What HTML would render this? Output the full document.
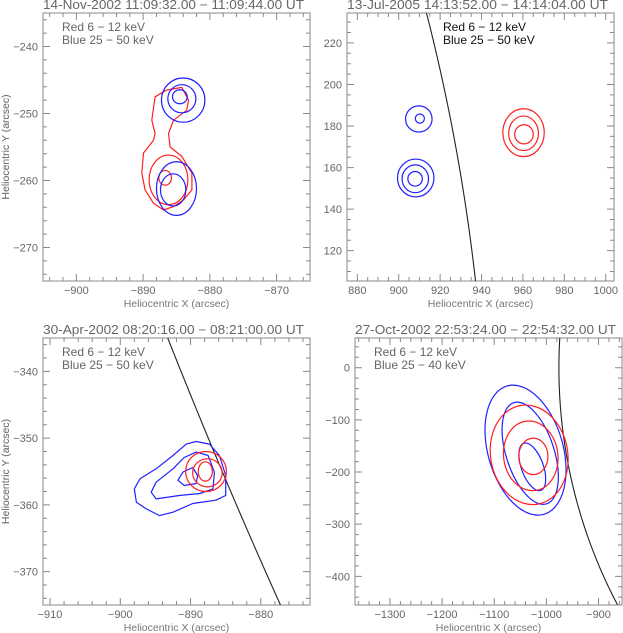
<!DOCTYPE html>
<html><head><meta charset="utf-8"><style>
html,body{margin:0;padding:0;background:#fff;}
svg{display:block;font-family:"Liberation Sans",sans-serif;}
</style></head><body>
<svg id="fig" width="623" height="633" viewBox="0 0 623 633" xmlns="http://www.w3.org/2000/svg"></svg>
<script>
// ---------- Panel 1 data ----------
const p1Title = "14-Nov-2002 11:09:32.00 \u2212 11:09:44.00 UT";
const p1Legend = ["Red 6 \u2212 12 keV", "Blue 25 \u2212 50 keV"];
const p1XRange = [-905, -865];
const p1YRange = [-275, -235];
const p1XTicks = [-900, -890, -880, -870];
const p1YTicks = [-270, -260, -250, -240];
const p1RedPoly = [[-884.2,-246.1],[-883.2,-248.0],[-883.45,-249.5],[-885.45,-251.0],[-886.2,-253.0],[-885.95,-255.0],[-884.2,-256.4],[-882.7,-258.9],[-882.7,-261.4],[-883.95,-262.9],[-885.45,-263.9],[-886.95,-264.4],[-888.45,-263.4],[-889.7,-261.4],[-890.2,-258.9],[-889.95,-255.9],[-888.45,-254.0],[-888.2,-253.0],[-888.7,-251.0],[-888.2,-247.5],[-886.45,-246.5]];
// ellipses: [cx, cy, rx, ry, rotationDeg]
const p1RedEll = [[-886.2,-259.9,2.9,3.7,0],[-886.7,-259.6,0.95,1.1,0]];
const p1BlueEll = [[-884.0,-248.0,3.25,3.3,0],[-884.2,-247.8,2.1,2.1,0],[-884.5,-247.5,1.1,1.05,0],[-885.0,-261.2,3.0,4.0,0],[-885.5,-261.4,1.9,2.4,0]];

// ---------- Panel 2 data ----------
const p2Title = "13-Jul-2005 14:13:52.00 \u2212 14:14:04.00 UT";
const p2Legend = ["Red 6 \u2212 12 keV", "Blue 25 \u2212 50 keV"];
const p2XRange = [875, 1004];
const p2YRange = [105.4, 234.4];
const p2XTicks = [880, 900, 920, 940, 960, 980, 1000];
const p2YTicks = [120, 140, 160, 180, 200, 220];
const p2RedEll = [[960.3,176.8,10,11.5,0],[960.3,176.5,7.2,8.3,0],[960.5,176.0,4.5,4.6,0]];
const p2BlueEll = [[909.7,183.4,6.4,6.3,0],[910.2,183.6,2.2,2.2,0],[908.2,155.0,8.8,9.1,0],[908.0,154.6,6.4,6.7,0],[907.9,154.6,3.5,3.5,0]];
const p2LimbR = 943;
const p2LimbSign = 1;

// ---------- Panel 3 data ----------
const p3Title = "30-Apr-2002 08:20:16.00 \u2212 08:21:00.00 UT";
const p3Legend = ["Red 6 \u2212 12 keV", "Blue 25 \u2212 50 keV"];
const p3XRange = [-911, -873];
const p3YRange = [-375, -335];
const p3XTicks = [-910, -900, -890, -880];
const p3YTicks = [-370, -360, -350, -340];
const p3RedEll = [[-887.8,-355.0,2.9,3.0,0],[-887.6,-355.2,2.1,2.1,0],[-887.9,-355.0,1.0,1.45,0]];
const p3BluePolys = [
 [[-889.2,-350.5],[-887.3,-350.9],[-885.9,-352.6],[-885.0,-355.6],[-885.0,-358.6],[-886.4,-359.3],[-889.7,-359.8],[-892.5,-361.1],[-894.4,-361.6],[-896.3,-360.6],[-897.7,-359.6],[-898.0,-357.6],[-897.2,-356.1],[-894.9,-354.6],[-892.5,-352.6],[-890.6,-350.9]],
 [[-889.2,-352.1],[-887.5,-352.6],[-886.6,-355.1],[-886.8,-357.6],[-888.7,-358.3],[-891.6,-358.6],[-894.9,-359.1],[-895.6,-358.1],[-894.9,-356.6],[-892.5,-354.6],[-890.9,-352.9]],
 [[-889.7,-354.4],[-889.0,-355.6],[-889.2,-356.8],[-890.9,-357.1],[-891.8,-356.3],[-891.1,-355.1]]
];
const p3LimbR = 954;
const p3LimbSign = -1;

// ---------- Panel 4 data ----------
const p4Title = "27-Oct-2002 22:53:24.00 \u2212 22:54:32.00 UT";
const p4Legend = ["Red 6 \u2212 12 keV", "Blue 25 \u2212 40 keV"];
const p4XRange = [-1367, -855];
const p4YRange = [-455, 57];
const p4XTicks = [-1300, -1200, -1100, -1000, -900];
const p4YTicks = [-400, -300, -200, -100, 0];
const p4RedEll = [[-1033,-167,74,96,-10],[-1030,-169,52,67,-8],[-1025,-170,28,35,0]];
const p4BlueEll = [[-1040,-158,72,128,-16],[-1031,-164,46,102,-18],[-1027,-190,21,48,-20]];
const p4LimbR = 976;
const p4LimbSign = -1;

const NS = "http://www.w3.org/2000/svg";
const svg = document.getElementById('fig');
function mk(tag, attrs, parent){ const e=document.createElementNS(NS,tag); for(const k in attrs) e.setAttribute(k,attrs[k]); (parent||svg).appendChild(e); return e; }

function panel(id, box, xr, yr, xt, yt, xMinor, yMinor, title, legend, legendX, legendColor){
  const g = mk('g',{});
  
  
  const [L,T,R,B] = box;
  const sx = v => L + (v - xr[0]) / (xr[1]-xr[0]) * (R-L);
  const sy = v => B - (v - yr[0]) / (yr[1]-yr[0]) * (B-T);
  const frame = mk('rect',{x:L,y:T,width:R-L,height:B-T,fill:'none',stroke:'#8a8a8a','stroke-width':1},g);
  
  
  let d='';
  const x0=Math.ceil(xr[0]/xMinor)*xMinor;
  for(let v=x0; v<=xr[1]; v+=xMinor){
    const major = xt.some(t=>Math.abs(t-v)<1e-6);
    const len = major?7:4; const X=sx(v);
    d+=`M${X},${B}v${-len}M${X},${T}v${len}`;
  }
  const y0=Math.ceil(yr[0]/yMinor)*yMinor;
  for(let v=y0; v<=yr[1]; v+=yMinor){
    const major = yt.some(t=>Math.abs(t-v)<1e-6);
    const len = major?7:4; const Y=sy(v);
    d+=`M${L},${Y}h${len}M${R},${Y}h${-len}`;
  }
  const tk = mk('path',{d:d,stroke:'#8a8a8a','stroke-width':1,fill:'none'},g);
  
  
  xt.forEach(v=>{
    const t=mk('text',{x:sx(v),y:B+13,'text-anchor':'middle','font-size':11,fill:'#666'},g);
    t.textContent = String(v).replace('-','\u2212');
    
    
  });
  yt.forEach(v=>{
    const t=mk('text',{x:L-5,y:sy(v)+4,'text-anchor':'end','font-size':11,fill:'#666'},g);
    t.textContent = String(v).replace('-','\u2212');
    
    
  });
  const xtl = mk('text',{x:(L+R)/2,y:B+26,'text-anchor':'middle','font-size':10.5,fill:'#777'},g);
  xtl.textContent='Heliocentric X (arcsec)';
  
  
  const ytl = mk('text',{x:0,y:0,'text-anchor':'middle','font-size':10.5,fill:'#777',transform:`translate(9,${(T+B)/2}) rotate(-90)`},g);
  ytl.textContent='Heliocentric Y (arcsec)';
  
  
  const tt = mk('text',{x:L,y:T-4,'font-size':12.5,fill:'#666',textLength:R-L-6,lengthAdjust:'spacingAndGlyphs'},g);
  tt.textContent = title;
  
  
  legend.forEach((s,i)=>{
    const t=mk('text',{x:legendX,y:T+18+i*13,'font-size':12,fill:legendColor},g);
    t.textContent=s;
    
    
  });
  const clip = mk('clipPath',{id:id+'-clip'},g);
  mk('rect',{x:L,y:T,width:R-L,height:B-T},clip);
  const plot = mk('g',{'clip-path':`url(#${id}-clip)`},g);
  return {sx,sy,plot,xr,yr};
}
function ell(P, e, color, name){
  const [cx,cy,rx,ry,rot]=e;
  const X=P.sx(cx), Y=P.sy(cy);
  const RX=Math.abs(P.sx(cx+rx)-X), RY=Math.abs(P.sy(cy+ry)-Y);
  const el = mk('ellipse',{cx:X,cy:Y,rx:RX,ry:RY,transform:`rotate(${rot} ${X} ${Y})`,fill:'none',stroke:color,'stroke-width':1.2},P.plot);
  
  
}
function poly(P, pts, color, name){
  const s = pts.map(p=>P.sx(p[0]).toFixed(1)+','+P.sy(p[1]).toFixed(1)).join(' ');
  const el = mk('polygon',{points:s,fill:'none',stroke:color,'stroke-width':1.2,'stroke-linejoin':'round'},P.plot);
  
  
}
function limb(P, R, sign){
  let d=''; const n=80;
  for(let i=0;i<=n;i++){
    const y = P.yr[0] + (P.yr[1]-P.yr[0])*i/n;
    const x = sign*Math.sqrt(R*R - y*y);
    d += (i?'L':'M') + P.sx(x).toFixed(2)+','+P.sy(y).toFixed(2);
  }
  const el = mk('path',{d:d,fill:'none',stroke:'#222','stroke-width':1.1},P.plot);
  
  
}

const P1 = panel('panel-14nov2002',[43,13,310,281],p1XRange,p1YRange,p1XTicks,p1YTicks,2,2,p1Title,p1Legend,62,'#666');
poly(P1,p1RedPoly,'#ff2020','red-contour-outer');
p1RedEll.forEach(e=>ell(P1,e,'#ff2020','red-contour'));
p1BlueEll.forEach(e=>ell(P1,e,'#2020ff','blue-contour'));

const P2 = panel('panel-13jul2005',[347,13,614,281],p2XRange,p2YRange,p2XTicks,p2YTicks,5,5,p2Title,p2Legend,443,'#111');
limb(P2,p2LimbR,p2LimbSign);
p2RedEll.forEach(e=>ell(P2,e,'#ff2020','red-contour'));
p2BlueEll.forEach(e=>ell(P2,e,'#2020ff','blue-contour'));

const P3 = panel('panel-30apr2002',[43,338,310,605],p3XRange,p3YRange,p3XTicks,p3YTicks,2,2,p3Title,p3Legend,62,'#666');
limb(P3,p3LimbR,p3LimbSign);
p3BluePolys.forEach(p=>poly(P3,p,'#2020ff','blue-contour'));
p3RedEll.forEach(e=>ell(P3,e,'#ff2020','red-contour'));

const P4 = panel('panel-27oct2002',[355,338,622,605],p4XRange,p4YRange,p4XTicks,p4YTicks,20,20,p4Title,p4Legend,374,'#666');
limb(P4,p4LimbR,p4LimbSign);
p4BlueEll.forEach(e=>ell(P4,e,'#2020ff','blue-contour'));
p4RedEll.forEach(e=>ell(P4,e,'#ff2020','red-contour'));
</script>
</body></html>
